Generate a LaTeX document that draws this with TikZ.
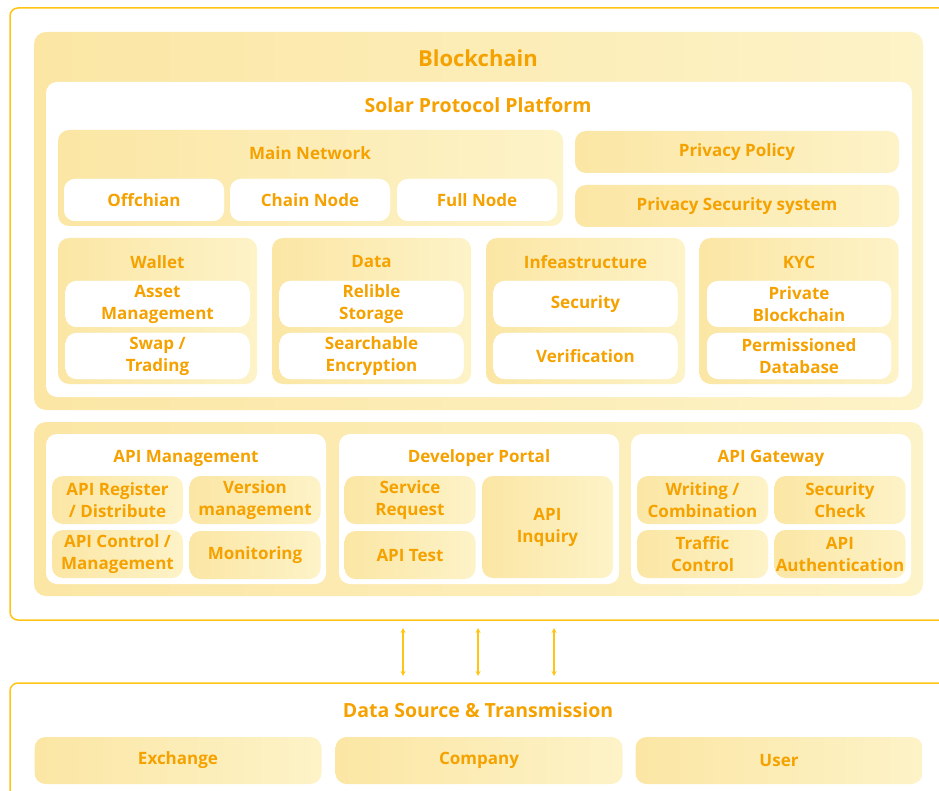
\documentclass[tikz,border=0pt]{standalone}
\usepackage{fontspec}
\setmainfont{Open Sans}
\definecolor{frameyellow}{HTML}{FFC414}
\definecolor{textorange}{HTML}{F5A200}
\definecolor{fillleft}{HTML}{FBE6A4}
\definecolor{fillright}{HTML}{FDF3C8}

\begin{document}
\begin{tikzpicture}[x=1pt, y=-1pt,
    frame/.style={draw=frameyellow, line width=1.5pt, rounded corners=8pt, inner sep=0pt},
    panel/.style={rounded corners=12pt, left color=fillleft, right color=fillright, inner sep=0pt},
    whitebox/.style={rounded corners=11pt, fill=white, inner sep=0pt},
    itembox/.style={rounded corners=11pt, left color=fillleft, right color=fillright, inner sep=0pt,
        text=textorange, font=\fontsize{17}{22}\selectfont\bfseries, align=center},
    witem/.style={itembox, fill=white, left color=white, right color=white},
    title/.style={text=textorange, font=\fontsize{17}{22}\selectfont\bfseries},
    bigtitle/.style={text=textorange, font=\fontsize{22}{26}\selectfont\bfseries}]
    \useasboundingbox (0,0) rectangle (939,791);
    \clip (0,0) rectangle (939,791);

    % Draw the two outer frames
    \node[frame, minimum width=960pt, minimum height=612pt] (top) at (490,314) {};
    \node[frame, minimum width=960pt, minimum height=147pt] (bottom) at (490,756.5) {};

    % Blockchain layer
    \node[panel, minimum width=889pt, minimum height=378pt] (chain) at (478.5,221) {};
    \node[bigtitle] (chain-title) at (478,58) {Blockchain};
    \node[whitebox, minimum width=866pt, minimum height=315pt] (solar) at (479,239.5) {};
    \node[bigtitle, font=\fontsize{19.5}{24}\selectfont\bfseries] (solar-title) at (478,105) {Solar Protocol Platform};

    % Main network and privacy
    \node[panel, rounded corners=11pt, minimum width=505pt, minimum height=96pt] (main) at (310.5,178) {};
    \node[title] (main-title) at (310,153) {Main Network};
    \node[witem, minimum width=160pt, minimum height=42pt] (offchain) at (144,200) {Offchian};
    \node[witem, minimum width=160pt, minimum height=42pt] (chainnode) at (310,200) {Chain Node};
    \node[witem, minimum width=160pt, minimum height=42pt] (fullnode) at (477,200) {Full Node};
    \node[itembox, minimum width=324pt, minimum height=42pt] (policy) at (737,152) {Privacy Policy};
    \node[itembox, minimum width=324pt, minimum height=42pt] (privsec) at (737,206) {Privacy Security system};

    % Four service groups
    \foreach \name/\x/\head/\one/\two in {
        wallet/157.5/Wallet/{Asset\\Management}/{Swap /\\Trading},
        data/371.5/Data/{Relible\\Storage}/{Searchable\\Encryption},
        infra/585.5/Infeastructure/Security/Verification,
        kyc/799/KYC/{Private\\Blockchain}/{Permissioned\\Database}} {
        \node[panel, rounded corners=11pt, minimum width=199pt, minimum height=146pt] (\name) at (\x,311) {};
        \node[title] (\name-title) at (\x,262) {\head};
        \node[witem, minimum width=184pt, minimum height=46pt] (\name-a) at (\x,304) {\one};
        \node[witem, minimum width=184pt, minimum height=46pt] (\name-b) at (\x,356) {\two};
    }

    % API layer
    \node[panel, minimum width=889pt, minimum height=174pt] (api) at (478.5,509) {};
    \node[whitebox, minimum width=280pt, minimum height=150pt] (apimgmt) at (186,509) {};
    \node[whitebox, minimum width=280pt, minimum height=150pt] (portal) at (479,509) {};
    \node[whitebox, minimum width=280pt, minimum height=150pt] (gateway) at (771,509) {};
    \node[title] (apimgmt-title) at (186,458) {API Management};
    \node[title] (portal-title) at (479,458) {Developer Portal};
    \node[title] (gateway-title) at (771,458) {API Gateway};

    \node[itembox, minimum width=131pt, minimum height=48pt] (register) at (117.5,500) {API Register\\/ Distribute};
    \node[itembox, minimum width=131pt, minimum height=48pt] (version) at (255,500) {Version\\management};
    \node[itembox, minimum width=131pt, minimum height=48pt] (control) at (117.5,554) {API Control /\\Management};
    \node[itembox, minimum width=131pt, minimum height=48pt] (monitor) at (255,555) {Monitoring};

    \node[itembox, minimum width=131pt, minimum height=48pt] (request) at (410,500) {Service\\Request};
    \node[itembox, minimum width=131pt, minimum height=48pt] (apitest) at (410,555) {API Test};
    \node[itembox, minimum width=131pt, minimum height=102pt] (inquiry) at (547.5,527) {API\\Inquiry};

    \node[itembox, minimum width=131pt, minimum height=48pt] (writing) at (702.5,500) {Writing /\\Combination};
    \node[itembox, minimum width=131pt, minimum height=48pt] (seccheck) at (840,500) {Security\\Check};
    \node[itembox, minimum width=131pt, minimum height=48pt] (traffic) at (702.5,554) {Traffic\\Control};
    \node[itembox, minimum width=131pt, minimum height=48pt] (auth) at (840,554) {API\\Authentication};

    % Arrows between the layers
    \foreach \i/\x in {1/403, 2/478, 3/554} {
        \coordinate (up\i) at (\x,628);
        \coordinate (down\i) at (\x,676);
        \draw[<->, >=stealth, frameyellow, line width=1.2pt] (up\i) -- (down\i);
    }

    % Data source layer
    \node[bigtitle, font=\fontsize{19.5}{24}\selectfont\bfseries] (source-title) at (478,710) {Data Source \& Transmission};
    \node[itembox, minimum width=287pt, minimum height=47pt] (exchange) at (178,760.5) {Exchange};
    \node[itembox, minimum width=287pt, minimum height=47pt] (company) at (479,760.5) {Company};
    \node[itembox, minimum width=287pt, minimum height=47pt] (user) at (779,760.5) {User};
\end{tikzpicture}
\end{document}
